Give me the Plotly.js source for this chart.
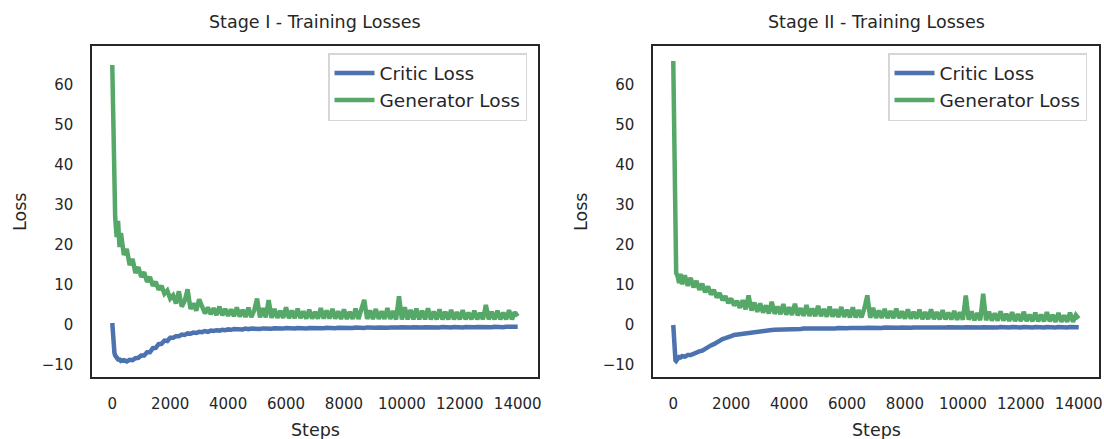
<!DOCTYPE html>
<html>
<head>
<meta charset="utf-8">
<script src="https://cdn.plot.ly/plotly-3.0.1.min.js"></script>
<style>html,body{margin:0;padding:0;background:#fff;}#chart{width:1104px;height:439px;}</style>
</head>
<body>
<div id="chart"></div>
<script>
// Training steps (x values)
const steps = [0,25,50,75,100,150,200,250,300,
400,500,600,700,800,900,1000,
1100,1200,1300,1400,1500,1600,1700,1800,1900,2000,
2100,2200,2300,2400,2500,2600,2700,2800,2900,3000,
3100,3200,3300,3400,3500,3600,3700,3800,3900,4000,
4100,4200,4300,4400,4500,4600,4700,4800,4900,5000,
5100,5200,5300,5400,5500,5600,5700,5800,5900,6000,
6100,6200,6300,6400,6500,6600,6700,6800,6900,7000,
7100,7200,7300,7400,7500,7600,7700,7800,7900,8000,
8100,8200,8300,8400,8500,8600,8700,8800,8900,9000,
9100,9200,9300,9400,9500,9600,9700,9800,9900,10000,
10100,10200,10300,10400,10500,10600,10700,10800,10900,11000,
11100,11200,11300,11400,11500,11600,11700,11800,11900,12000,
12100,12200,12300,12400,12500,12600,12700,12800,12900,13000,
13100,13200,13300,13400,13500,13600,13700,13800,13900,14000];

// Stage I
const stage1Critic = [0.5,-3,-5.5,-7,-7.6,-8.2,-8.6,-8.6,-9.0,
-8.8,-9.1,-8.7,-8.8,-8.3,-8.2,-7.6,
-7.6,-6.8,-6.8,-5.8,-5.7,-4.8,-4.7,-3.9,-4.0,-3.2,
-3.2,-2.8,-2.8,-2.4,-2.5,-2.1,-2.2,-1.9,-2.0,-1.7,
-1.8,-1.5,-1.7,-1.4,-1.5,-1.3,-1.4,-1.2,-1.3,-1.1,
-1.2,-1.0,-1.1,-0.95,-1.1,-0.9,-1.05,-0.9,-1.0,-0.85,
-1.0,-0.85,-0.95,-0.8,-0.95,-0.8,-0.9,-0.8,-0.9,-0.75,
-0.85,-0.75,-0.85,-0.75,-0.85,-0.7,-0.85,-0.75,-0.8,-0.7,
-0.8,-0.7,-0.8,-0.7,-0.8,-0.7,-0.8,-0.7,-0.75,-0.65,
-0.75,-0.65,-0.75,-0.65,-0.75,-0.65,-0.75,-0.6,-0.7,-0.6,
-0.7,-0.6,-0.7,-0.6,-0.7,-0.6,-0.7,-0.6,-0.65,-0.55,
-0.65,-0.55,-0.65,-0.55,-0.65,-0.55,-0.65,-0.55,-0.6,-0.55,
-0.6,-0.5,-0.6,-0.5,-0.6,-0.5,-0.6,-0.5,-0.6,-0.5,
-0.6,-0.5,-0.6,-0.5,-0.55,-0.5,-0.55,-0.45,-0.55,-0.45,
-0.55,-0.45,-0.55,-0.45,-0.55,-0.45,-0.5,-0.45,-0.5,-0.45];

const stage1Generator = [65,52,40,31,27,22,26,19.5,23,
17.5,19,15,16.5,13,14.5,12,
13.2,10.8,12,9.8,10.8,8.8,9.8,7.8,8.6,6.6,
7.4,5.4,8.4,4.6,6.0,8.9,4.0,5.4,3.6,6.4,
4.6,2.9,4.4,2.7,4.2,2.5,4.6,2.4,4.0,2.3,
3.9,2.2,4.4,2.1,3.8,2.0,4.3,2.0,3.6,6.6,
1.9,4.2,1.9,6.2,1.8,4.0,1.8,3.5,1.8,4.4,
1.7,3.6,1.7,4.1,1.7,3.4,1.6,3.8,1.6,3.3,
1.6,4.2,1.6,3.6,1.6,4.0,1.6,3.4,1.5,3.9,
1.5,3.3,1.5,4.1,1.5,3.5,6.3,1.5,3.6,1.5,
4.0,1.5,3.4,1.5,4.2,1.5,3.5,1.4,7.2,1.4,
4.4,1.4,3.8,1.4,4.1,1.4,3.6,1.4,4.2,1.4,
3.4,1.4,3.9,1.4,3.3,1.4,3.8,1.4,3.2,1.4,
3.7,1.4,3.1,1.4,3.6,1.4,3.0,1.4,5.0,1.4,
3.3,1.4,3.6,1.4,3.1,1.4,3.7,1.4,3.2,2.2];

// Stage II
const stage2Critic = [0,-4,-7.5,-8.8,-9.0,-8.3,-8.0,-8.1,-7.8,
-7.9,-7.5,-7.5,-7.1,-7.0,-6.6,-6.4,
-5.9,-5.6,-5.1,-4.8,-4.3,-4.0,-3.5,-3.3,-2.9,-2.8,
-2.5,-2.4,-2.1,-2.1,-1.9,-1.9,-1.7,-1.7,-1.5,-1.5,
-1.4,-1.35,-1.3,-1.25,-1.2,-1.2,-1.1,-1.15,-1.05,-1.1,
-1.0,-1.05,-0.95,-1.0,-0.9,-0.95,-0.9,-0.95,-0.85,-0.9,
-0.85,-0.9,-0.8,-0.85,-0.8,-0.85,-0.75,-0.85,-0.75,-0.8,
-0.75,-0.8,-0.7,-0.8,-0.7,-0.75,-0.7,-0.75,-0.7,-0.75,
-0.65,-0.75,-0.65,-0.7,-0.65,-0.7,-0.65,-0.7,-0.6,-0.7,
-0.6,-0.7,-0.6,-0.65,-0.6,-0.65,-0.6,-0.65,-0.6,-0.65,
-0.55,-0.65,-0.55,-0.65,-0.55,-0.6,-0.55,-0.6,-0.55,-0.6,
-0.55,-0.6,-0.55,-0.6,-0.55,-0.6,-0.55,-0.6,-0.55,-0.6,
-0.5,-0.6,-0.5,-0.6,-0.5,-0.6,-0.5,-0.6,-0.5,-0.6,
-0.5,-0.6,-0.5,-0.6,-0.5,-0.6,-0.5,-0.6,-0.5,-0.6,
-0.5,-0.6,-0.5,-0.6,-0.5,-0.6,-0.5,-0.6,-0.5,-0.55];

const stage2Generator = [66,46,30,19,13,12.2,10.5,12.8,10.2,
12.4,9.8,11.8,9.4,11.0,8.8,10.3,
8.2,9.6,7.6,8.8,6.9,8.0,6.2,7.2,5.5,6.6,
4.9,6.0,4.3,6.2,3.9,7.4,3.6,5.6,3.3,5.4,
3.1,4.9,2.9,5.8,2.8,4.6,2.7,5.2,2.6,4.4,
2.5,5.3,2.4,4.2,2.3,5.0,2.3,4.1,2.2,4.8,
2.2,4.0,2.1,4.6,2.1,3.9,2.0,4.5,2.0,3.8,
1.9,4.4,1.9,3.7,1.9,4.2,7.4,1.8,4.3,1.8,
3.6,1.8,4.0,1.7,3.5,1.7,4.1,1.7,3.4,1.6,
3.9,1.6,3.3,1.6,3.8,1.5,3.2,1.5,3.9,1.5,
3.2,1.4,3.7,1.4,3.1,1.4,3.5,1.3,3.2,1.3,
7.4,1.3,3.4,1.2,3.0,1.2,7.8,1.2,3.3,1.1,
2.9,1.1,3.4,1.1,2.8,1.0,3.2,1.0,2.7,1.0,
3.3,1.0,2.6,0.9,3.1,0.9,2.6,0.9,3.2,0.9,
2.5,0.8,3.0,0.8,2.4,0.8,3.1,0.8,2.5,1.6];

const seriesNames = ["Critic Loss", "Generator Loss"];
const panelTitles = ["Stage I - Training Losses", "Stage II - Training Losses"];
const xTicks = [0,2000,4000,6000,8000,10000,12000,14000];
const yTicks = [-10,0,10,20,30,40,50,60];

const BLUE = "#4C72B0", GREEN = "#55A868", INK = "#262626";
const FONT = "DejaVu Sans";

function tr(y, name, color, xa, ya, lg) {
  return {x: steps, y: y, name: name, type: "scatter", mode: "lines",
    line: {color: color, width: 4.5}, xaxis: xa, yaxis: ya, legend: lg, hoverinfo: "skip"};
}
const data = [
  tr(stage1Critic, seriesNames[0], BLUE, "x", "y", "legend"),
  tr(stage1Generator, seriesNames[1], GREEN, "x", "y", "legend"),
  tr(stage2Critic, seriesNames[0], BLUE, "x2", "y2", "legend2"),
  tr(stage2Generator, seriesNames[1], GREEN, "x2", "y2", "legend2")
];

function xax(domain, anchor) {
  return {domain: domain, anchor: anchor, range: [-700, 14700], tickvals: xTicks,
    tickformat: "d",
    showgrid: false, zeroline: false, showline: true, mirror: true, linecolor: INK, linewidth: 1.6,
    ticks: "", ticklabelstandoff: 12, tickfont: {family: FONT, size: 15, color: INK}};
}
function yax(anchor) {
  return {domain: [0, 1], anchor: anchor, range: [-13, 69.75], tickvals: yTicks,
    showgrid: false, zeroline: false, showline: true, mirror: true, linecolor: INK, linewidth: 1.6,
    ticks: "", ticklabelstandoff: 14, tickfont: {family: FONT, size: 15, color: INK}};
}
function legendCfg(x) {
  return {x: x, y: (377 - 53) / 331, xanchor: "right", yanchor: "top", xref: "paper", yref: "paper",
    bgcolor: "#ffffff", bordercolor: "#d6d6d6", borderwidth: 1.5,
    font: {family: FONT, size: 18.5, color: INK}, itemwidth: 40, tracegroupgap: 0};
}
const W = 1007, H = 331, L = 92, T = 46;
const px = v => (v - L) / W;
const py = v => (T + H - v) / H;
function ann(text, x, y, angle) {
  return {text: text, x: x, y: y, xref: "paper", yref: "paper", showarrow: false,
    xanchor: "center", yanchor: "middle", textangle: angle || 0,
    font: {family: FONT, size: 17.5, color: INK}};
}
const layout = {
  width: 1104, height: 439,
  margin: {l: L, r: 5, t: T, b: 62},
  paper_bgcolor: "#ffffff", plot_bgcolor: "#ffffff",
  showlegend: true,
  xaxis: xax([0, 0.4429], "y"),
  yaxis: yax("x"),
  xaxis2: xax([0.5571, 1], "y2"),
  yaxis2: yax("x2"),
  legend: legendCfg(px(527)),
  legend2: legendCfg(px(1087)),
  annotations: [
    ann(panelTitles[0], px(315), py(22)),
    ann(panelTitles[1], px(876), py(22)),
    ann("Steps", px(315), py(430)),
    ann("Steps", px(876), py(430)),
    ann("Loss", px(20), py(212), -90),
    ann("Loss", px(581), py(212), -90)
  ]
};
Plotly.newPlot("chart", data, layout, {staticPlot: true, displayModeBar: false});
</script>
</body>
</html>
